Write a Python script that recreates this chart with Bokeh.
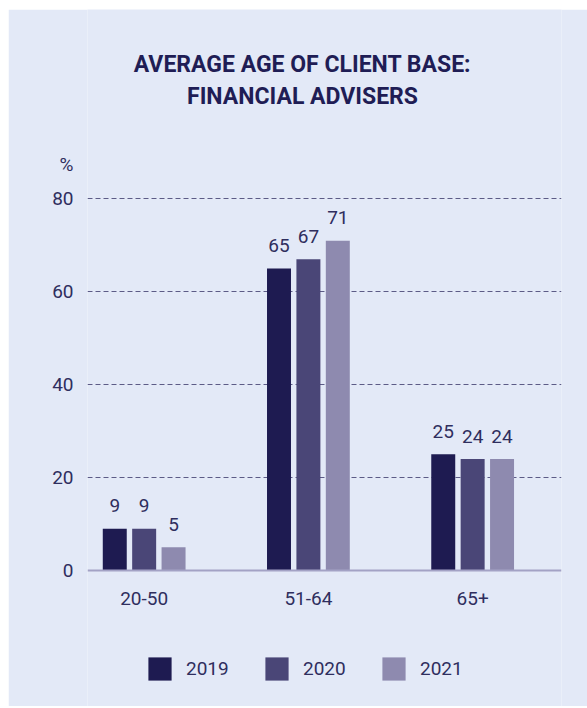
from bokeh.plotting import figure
from bokeh.layouts import column, row
from bokeh.models import (Range1d, FixedTicker, Label, Legend, LegendItem, ColumnDataSource, Spacer)
from bokeh.core.properties import value
from bokeh.embed import file_html
from bokeh.resources import INLINE

categories = ["20-50", "51-64", "65+"]
years = ["2019", "2020", "2021"]
v2019 = [9, 65, 25]
v2020 = [9, 67, 24]
v2021 = [5, 71, 24]
colors = ["#1e1b51", "#4a4677", "#8e8aaf"]
y_ticks = [0, 20, 40, 60, 80]
unit_label = "%"
title_lines = ["AVERAGE AGE OF CLIENT BASE:", "FINANCIAL ADVISERS"]

BG = "#e3e9f7"
TXT = "#2f2e5e"
FONT = "Roboto"

# frame covers the full height of the figure; the x axis is pinned at y=0
Y_START, Y_END = -29.27, 120.75
UNIT_POS = 87.4  # position of the unit label on the y axis

p = figure(width=579, height=697, x_range=Range1d(0.655, 3.541), y_range=Range1d(Y_START, Y_END),
           output_backend="svg", toolbar_location=None,
           min_border_left=79, min_border_right=26, min_border_top=0, min_border_bottom=0)
p.background_fill_color = BG
p.border_fill_color = BG
p.outline_line_color = None

offsets = [-0.179, 0.0, 0.179]
width = 0.146
renderers = []
for vals, col, off, yr in zip([v2019, v2020, v2021], colors, offsets, years):
    xs = [i + 1 + off for i in range(len(categories))]
    src = ColumnDataSource(dict(x=xs, top=vals, lab=[str(v) for v in vals]))
    r = p.vbar(x="x", top="top", width=width, bottom=0, source=src, fill_color=col, line_color=None)
    renderers.append(r)
    p.text(x="x", y="top", text="lab", source=src, text_align="center", text_baseline="alphabetic",
           y_offset=-23, text_font=value(FONT), text_font_size="19px", text_color=TXT)

# axes
p.yaxis.ticker = FixedTicker(ticks=y_ticks + [UNIT_POS])
p.yaxis.major_label_overrides = {UNIT_POS: unit_label}
p.yaxis.axis_line_color = None
p.yaxis.major_tick_line_color = None
p.yaxis.minor_tick_line_color = None
p.yaxis.major_tick_out = 0
p.yaxis.major_label_standoff = 14
p.yaxis.major_label_text_font = FONT
p.yaxis.major_label_text_font_size = "19px"
p.yaxis.major_label_text_color = TXT

p.xaxis.fixed_location = 0
p.xaxis.ticker = FixedTicker(ticks=[1, 2, 3])
p.xaxis.major_label_overrides = {i + 1: c for i, c in enumerate(categories)}
p.xaxis.axis_line_color = "#a3a2c5"
p.xaxis.axis_line_width = 2
p.xaxis.major_tick_line_color = None
p.xaxis.minor_tick_line_color = None
p.xaxis.major_tick_out = 0
p.xaxis.major_label_standoff = 21
p.xaxis.major_label_text_font = FONT
p.xaxis.major_label_text_font_size = "19px"
p.xaxis.major_label_text_color = TXT

p.xgrid.grid_line_color = None
p.ygrid.ticker = FixedTicker(ticks=y_ticks[1:])
p.ygrid.grid_line_color = "#5c5b86"
p.ygrid.grid_line_dash = "5 3"
p.ygrid.grid_line_width = 1

# title (screen units, measured from the frame's bottom-left)
for txt, yy in zip(title_lines, [642, 610]):
    p.add_layout(Label(x=215, y=yy, x_units="screen", y_units="screen", text=txt,
                       text_align="center", text_baseline="alphabetic", text_font=FONT,
                       text_font_style="bold", text_font_size="23px", text_color="#1f1d55"))

legend = Legend(items=[LegendItem(label=y, renderers=[r]) for y, r in zip(years, renderers)],
                orientation="horizontal", location=(58, 23), padding=0, margin=0, spacing=0,
                glyph_width=29, glyph_height=29, label_standoff=12, label_width=76,
                label_text_font=FONT, label_text_font_size="19px", label_text_color=TXT,
                background_fill_alpha=0, border_line_alpha=0)
p.add_layout(legend, "center")

layout = column(Spacer(height=9), row(Spacer(width=8), p))
open("out.html", "w").write(file_html(layout, INLINE))
